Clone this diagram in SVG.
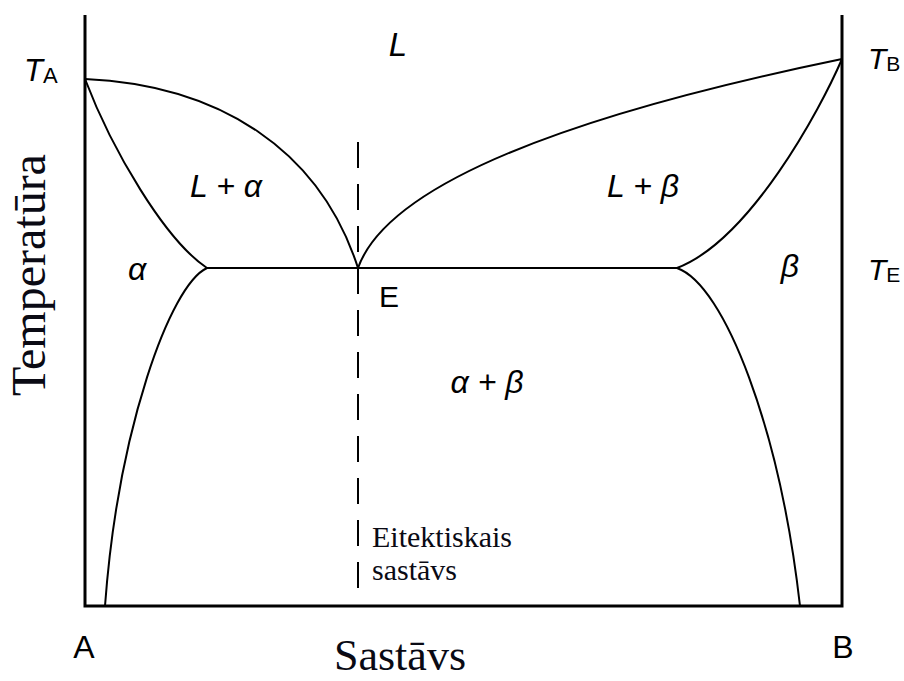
<svg xmlns="http://www.w3.org/2000/svg" width="904" height="681" viewBox="0 0 904 681">
<style>
.ax{fill:none;stroke:#000;stroke-width:3}
.cv{fill:none;stroke:#000;stroke-width:2}
.ds{fill:none;stroke:#000;stroke-width:2;stroke-dasharray:26 16}
.lb{font-family:"Liberation Sans",Arial,sans-serif;fill:#000}
.it{font-style:italic}
.sr{font-family:"Liberation Serif","Times New Roman",serif;fill:#0a0a14}
</style>
<rect width="904" height="681" fill="#fff"/>
<g id="axes">
<path class="ax" d="M85,15 V606 H842 V15"/>
</g>
<g id="curves">
<path class="cv" d="M85,79 C220,85 320,150 358,268"/>
<path class="cv" d="M85,79 C112,150 165,240 207,268"/>
<path class="cv" d="M207,268 C170,285 118,430 105,606"/>
<path class="cv" d="M358,268 Q400,150 842,59"/>
<path class="cv" d="M842,59 C820,110 750,240 677,268"/>
<path class="cv" d="M677,268 C725,285 780,430 800,606"/>
<path class="cv" d="M207,268 H677"/>
<path class="ds" d="M358,142 V590"/>
</g>
<g id="labels">
<text class="lb it" x="398" y="56" font-size="33" text-anchor="middle">L</text>
<text class="lb" x="24" y="81" font-size="31"><tspan class="it">T</tspan><tspan font-size="22" dy="2">A</tspan></text>
<text class="lb" x="868" y="69" font-size="30"><tspan class="it">T</tspan><tspan font-size="21" dy="2">B</tspan></text>
<text class="lb" x="868" y="280" font-size="30"><tspan class="it">T</tspan><tspan font-size="21" dy="2">E</tspan></text>
<text class="lb it" x="226" y="197" font-size="32" text-anchor="middle">L + α</text>
<text class="lb it" x="643" y="197" font-size="32" text-anchor="middle">L + β</text>
<text class="lb it" x="137" y="280" font-size="32" text-anchor="middle">α</text>
<text class="lb it" x="790" y="277" font-size="32" text-anchor="middle">β</text>
<text class="lb" x="389" y="307" font-size="30" text-anchor="middle">E</text>
<text class="lb it" x="487" y="393" font-size="32" text-anchor="middle">α + β</text>
<text class="lb" x="84" y="658" font-size="32" text-anchor="middle">A</text>
<text class="lb" x="843" y="658" font-size="32" text-anchor="middle">B</text>
<text class="sr" x="372" y="547" font-size="30">Eitektiskais</text>
<text class="sr" x="372" y="580" font-size="30">sastāvs</text>
<text class="sr" x="400" y="670" font-size="44" text-anchor="middle">Sastāvs</text>
<text class="sr" transform="translate(45,275) rotate(-90)" font-size="48" text-anchor="middle">Temperatūra</text>
</g>
</svg>
